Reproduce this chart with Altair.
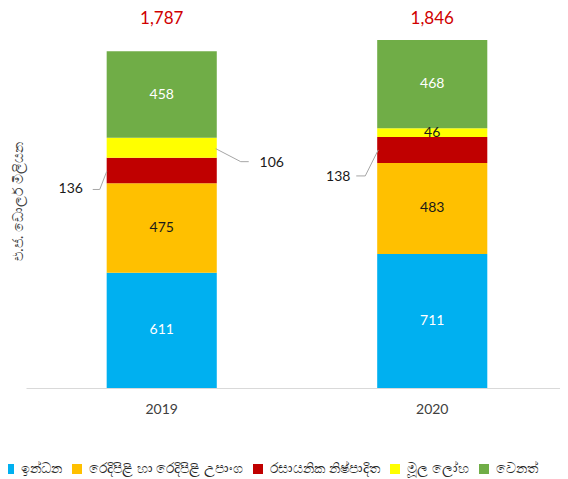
import altair as alt
import pandas as pd

years = ["2019", "2020"]
categories = ["ඉන්ධන", "රෙදිපිළි හා රෙදිපිළි උපාංග", "රසායනික නිෂ්පාදිත", "මූල ලෝහ", "වෙනත්"]
fuel = [611, 711]
apparel = [475, 483]
chemicals = [136, 138]
base_metals = [106, 46]
other = [458, 468]
total_labels = ["1,787", "1,846"]
y_title = "එ.ජ. ඩොලර් මිලියන"

colors = ["#00b0f0", "#ffc000", "#c00000", "#ffff00", "#70ad47"]
series = [fuel, apparel, chemicals, base_metals, other]

rows = []
for yi, yr in enumerate(years):
    start = 0
    for ci, cat in enumerate(categories):
        v = series[ci][yi]
        rows.append(dict(year=yr, cat=cat, order=ci, value=v, start=start,
                         end=start + v, mid=start + v / 2, lbl=str(v)))
        start += v
df = pd.DataFrame(rows)
df_tot = pd.DataFrame({"year": years, "lbl": total_labels})

callouts = [("2019", 2), ("2019", 3), ("2020", 2)]
is_callout = df.apply(lambda r: (r["year"], r["order"]) in callouts, axis=1)
df_in = df[~is_callout]

NUM_FONT = "Lato"

xscale = alt.Scale(domain=years, paddingInner=0.593, paddingOuter=0.2835, align=0.526)
yscale = alt.Scale(domain=[0, 2000], nice=False, zero=True)

yaxis = alt.Axis(
    title=y_title, labels=False, ticks=False, domain=False, grid=False,
    minExtent=0, titleFontSize=14, titleFontWeight="normal", titleColor="#404040",
    titleFont="Noto Sans", titleAngle=270, titleAlign="center",
    titleBaseline="middle", titleX=-8, titleY=190)

base = alt.Chart(df)

bars = base.mark_bar(stroke=None).encode(
    x=alt.X("year:N", scale=xscale, axis=alt.Axis(
        title=None, labelAngle=0, labelFontSize=14, labelFont=NUM_FONT,
        labelColor="#404040", ticks=False, labelPadding=14,
        domainColor="#d9d9d9", domainWidth=1)),
    y=alt.Y("start:Q", scale=yscale, axis=yaxis),
    y2="end:Q",
    color=alt.Color("cat:N", scale=alt.Scale(domain=categories, range=colors),
                    legend=alt.Legend(title=None)),
)

white_lbl = alt.Chart(df_in).transform_filter(
    alt.FieldOneOfPredicate(field="order", oneOf=[0, 4])
).mark_text(font=NUM_FONT, fontSize=14, color="#ffffff", baseline="middle").encode(
    x=alt.X("year:N", scale=xscale),
    y=alt.Y("mid:Q", scale=yscale),
    text="lbl:N",
)

dark_lbl = alt.Chart(df_in).transform_filter(
    alt.FieldOneOfPredicate(field="order", oneOf=[1, 2, 3])
).mark_text(font=NUM_FONT, fontSize=14, color="#1a1a1a", baseline="middle").encode(
    x=alt.X("year:N", scale=xscale),
    y=alt.Y("mid:Q", scale=yscale),
    text="lbl:N",
)

tot = alt.Chart(df_tot).mark_text(font=NUM_FONT, fontSize=17, color="#d00000",
                                  baseline="middle").encode(
    x=alt.X("year:N", scale=xscale),
    y=alt.value(8),
    text="lbl:N",
)

# leader-line geometry (pixel offsets from segment centre) and label offsets
geom = {
    ("2019", 2): ([(-55, 1), (-62, 19), (-69, 19)], (-91, 19)),
    ("2019", 3): ([(54, 1), (79, 14), (87, 14)], (110, 15)),
    ("2020", 2): ([(-54, 0), (-67, 26), (-76, 26)], (-94, 27)),
}

layers = [bars, white_lbl, dark_lbl, tot]
for (yr, ci), (pts, (ldx, ldy)) in geom.items():
    sub = alt.Chart(df).transform_filter(
        (alt.datum.year == yr) & (alt.datum.order == ci))
    for (x1, y1), (x2, y2) in zip(pts[:-1], pts[1:]):
        layers.append(sub.mark_rule(color="#a6a6a6", strokeWidth=1,
                                    xOffset=x1, x2Offset=x2,
                                    yOffset=y1, y2Offset=y2).encode(
            x=alt.X("year:N", scale=xscale),
            x2="year:N",
            y=alt.Y("mid:Q", scale=yscale),
            y2="mid:Q",
        ))
    layers.append(sub.mark_text(font=NUM_FONT, fontSize=14, color="#1a1a1a",
                                baseline="middle", dx=ldx, dy=ldy).encode(
        x=alt.X("year:N", scale=xscale),
        y=alt.Y("mid:Q", scale=yscale),
        text="lbl:N",
    ))

chart = alt.layer(*layers).properties(
    width=534, height=377,
    padding={"left": 18, "top": 3, "right": 0, "bottom": 90},
    autosize=alt.AutoSizeParams(type="none"),
).configure_view(stroke=None).configure_legend(
    orient="none", legendX=-24, legendY=451, direction="horizontal",
    padding=0, symbolType="square", symbolSize=100, symbolStrokeWidth=0,
    labelFontSize=14, labelFont="Noto Sans", labelColor="#262626",
    columnPadding=8, labelOffset=5, labelLimit=400,
)

chart.save("out.html", embed_options={"renderer": "svg", "actions": False})
